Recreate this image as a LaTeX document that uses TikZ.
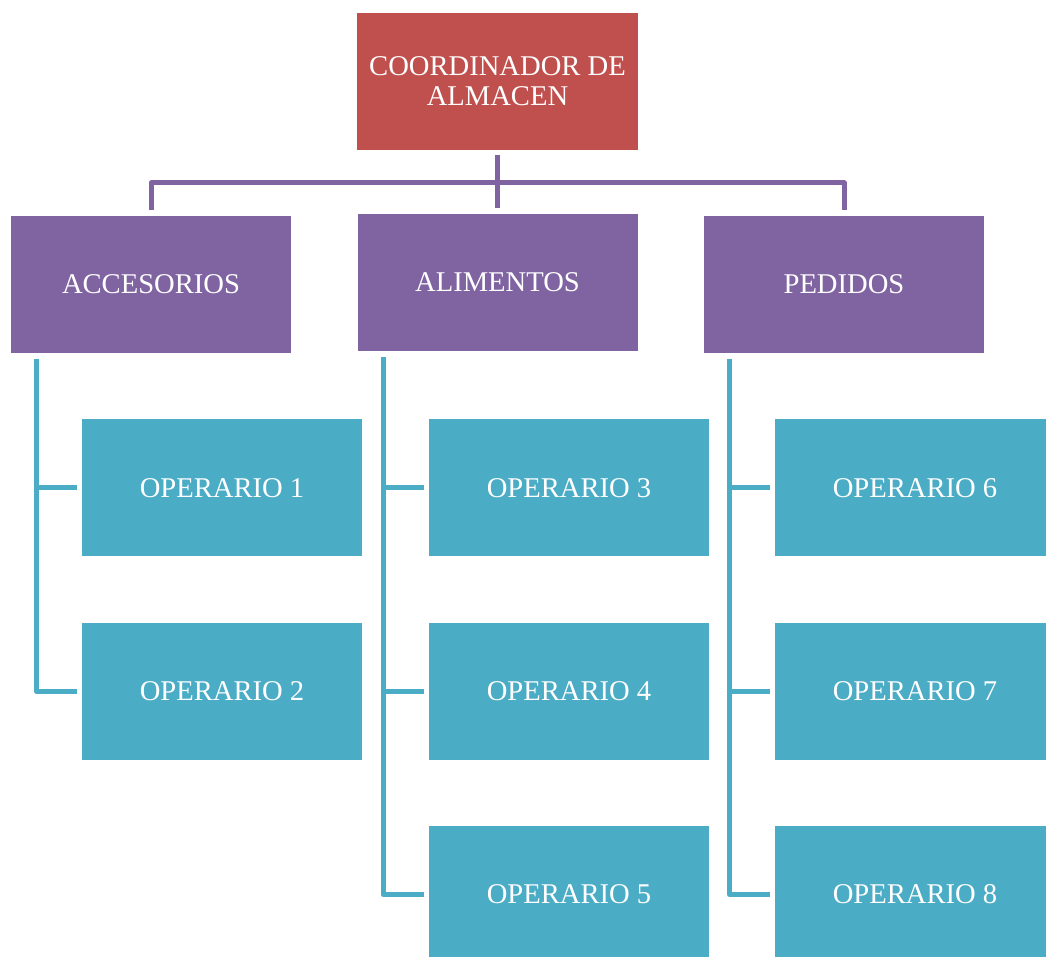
\documentclass[tikz,border=0pt]{standalone}
\usepackage{fontspec}
\setmainfont{Liberation Serif}
\definecolor{rojo}{HTML}{C0504D}
\definecolor{morado}{HTML}{8064A2}
\definecolor{turquesa}{HTML}{4BACC6}

\begin{document}
\begin{tikzpicture}[x=0.5pt,y=-0.5pt,
  caja/.style={minimum width=140pt,minimum height=68.5pt,inner sep=0pt,text=white,
    font=\fontsize{14.3}{15}\selectfont,align=center},
  linea/.style={line width=2.5pt,line join=round}]
  \useasboundingbox (0,0) rectangle (1046,957);
  \clip (0,0) rectangle (1046,957);

  % coordinador
  \node[caja,fill=rojo,minimum width=140.5pt] (coord) at (497.5,81.5) {COORDINADOR DE\\ALMACEN};

  % areas
  \foreach \n/\x/\y/\t in {acc/151/284.5/ACCESORIOS, ali/497.5/282.5/ALIMENTOS, ped/844/284.5/PEDIDOS} {
    \node[caja,fill=morado] (\n) at (\x,\y) {\t};
  }

  % operarios
  \foreach \n/\x/\y in {1/222/488, 2/222/691.5, 3/569/488, 4/569/691.5, 5/569/894.5,
                        6/915/488, 7/915/691.5, 8/915/894.5} {
    \node[caja,fill=turquesa] (op\n) at (\x,\y) {OPERARIO \n};
  }

  % lineas del coordinador
  \coordinate (barra) at (497.5,183);
  \draw[linea,morado] ([yshift=-2.5pt]coord.south) -- ([yshift=3pt]ali.north);
  \draw[linea,morado] ([yshift=3pt]acc.north) |- (barra) -| ([yshift=3pt]ped.north);

  % lineas de cada area
  \foreach \g/\u in {acc/op2, ali/op5, ped/op8} {
    \coordinate (\g l) at ([xshift=13pt,yshift=-3pt]\g.south west);
    \draw[linea,turquesa] (\g l) |- ([xshift=-2.5pt]\u.west);
  }
  \foreach \g/\o in {acc/op1, ali/op3, ali/op4, ped/op6, ped/op7} {
    \draw[linea,turquesa] (\g l |- \o.west) -- ([xshift=-2.5pt]\o.west);
  }

\end{tikzpicture}
\end{document}
